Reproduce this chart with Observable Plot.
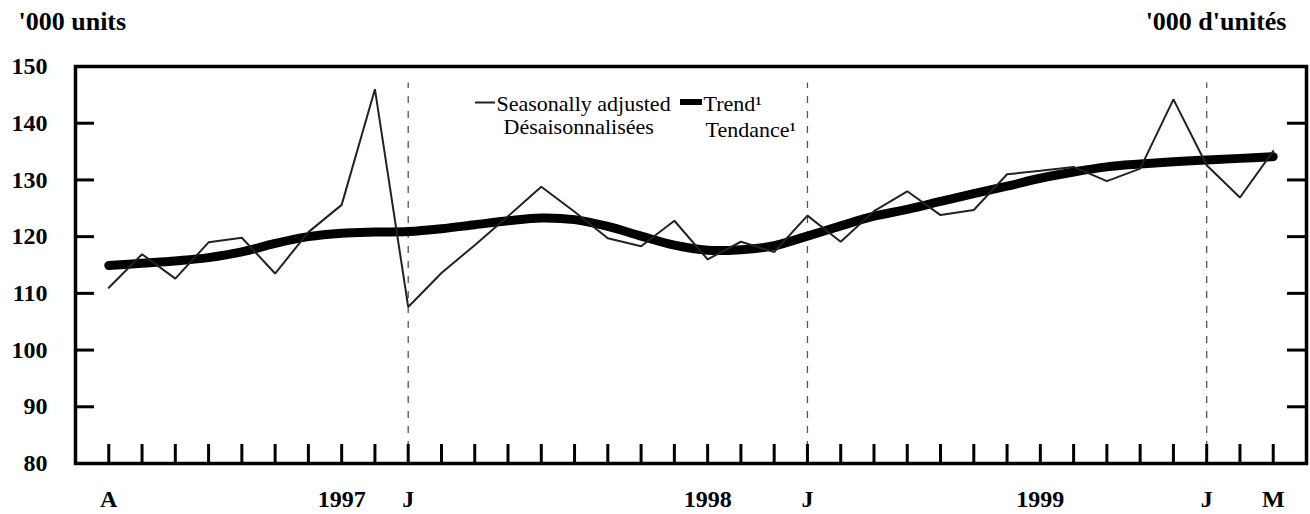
<!DOCTYPE html>
<html>
<head>
<meta charset="utf-8">
<script src="https://cdn.jsdelivr.net/npm/d3@7"></script>
<script src="https://cdn.jsdelivr.net/npm/@observablehq/plot@0.6"></script>
<style>
  html, body { margin: 0; padding: 0; background: #fff; }
  #chart { width: 1310px; height: 514px; }
</style>
</head>
<body>
<div id="chart"></div>
<script>
// Months: April 1996 .. March 1999 (index 0..35)
const months = ["1996-04","1996-05","1996-06","1996-07","1996-08","1996-09","1996-10","1996-11","1996-12",
  "1997-01","1997-02","1997-03","1997-04","1997-05","1997-06","1997-07","1997-08","1997-09","1997-10","1997-11","1997-12",
  "1998-01","1998-02","1998-03","1998-04","1998-05","1998-06","1998-07","1998-08","1998-09","1998-10","1998-11","1998-12",
  "1999-01","1999-02","1999-03"];

// Seasonally adjusted ('000 units)
const seasonallyAdjusted = [111.0, 116.9, 112.6, 119.0, 119.8, 113.5, 120.8, 125.6, 146.0,
  107.6, 113.6, 118.5, 123.6, 128.8, 124.4, 119.7, 118.3, 122.8, 116.0, 119.1, 117.3,
  123.7, 119.1, 124.5, 128.0, 123.8, 124.7, 131.0, 131.6, 132.3, 129.8, 132.0, 144.2,
  132.6, 126.9, 135.1];

// Trend
const trend = [114.9, 115.3, 115.7, 116.3, 117.3, 118.8, 120.0, 120.6, 120.8,
  120.9, 121.4, 122.1, 122.8, 123.3, 123.0, 121.8, 120.1, 118.5, 117.6, 117.7, 118.4,
  120.1, 121.9, 123.6, 124.8, 126.2, 127.6, 128.9, 130.3, 131.4, 132.3, 132.8, 133.2,
  133.5, 133.8, 134.1];

// X tick labels (month, label)
const xLabelMonths = ["1996-04","1996-11","1997-01","1997-10","1998-01","1998-08","1999-01","1999-03"];
const xLabelText = ["A","1997","J","1998","J","1999","J","M"];

// Y ticks
const yTickValues = [80, 90, 100, 110, 120, 130, 140, 150];
const yInnerTicks = [90, 100, 110, 120, 130, 140];

// January reference lines
const januaries = ["1997-01","1998-01","1999-01"];

const data = months.map((m, i) => ({i, m, sa: seasonallyAdjusted[i], trend: trend[i]}));
const idx = m => months.indexOf(m);
const xLabels = xLabelMonths.map((m, k) => ({i: idx(m), label: xLabelText[k]}));

const W = 1310, H = 514;
const mL = 75, mR = 4, mT = 66, mB = 51;
const pw = W - mL - mR, ph = H - mT - mB;
const tickLen = 19;
const FONT = "'Liberation Serif', 'Times New Roman', serif";

const bold = {fontFamily: FONT, fontWeight: "bold", fill: "#000", lineAnchor: "middle"};
const reg = {fontFamily: FONT, fill: "#000", lineAnchor: "middle", textAnchor: "start", fontSize: 22};

const chart = Plot.plot({
  width: W,
  height: H,
  marginLeft: mL, marginRight: mR, marginTop: mT, marginBottom: mB,
  style: {fontFamily: FONT, background: "#fff", color: "#000", overflow: "visible"},
  x: {domain: [-1, 36], axis: null},
  y: {domain: [80, 150], axis: null},
  marks: [
    Plot.ruleX(januaries, {x: d => idx(d), y1: 80, y2: 147.1, stroke: "#555", strokeWidth: 1.3, strokeDasharray: "7,8"}),
    Plot.tickY(yInnerTicks, {y: d => d, insetRight: pw - tickLen, stroke: "#000", strokeWidth: 3}),
    Plot.tickY(yInnerTicks, {y: d => d, insetLeft: pw - tickLen, stroke: "#000", strokeWidth: 3}),
    Plot.tickX(data, {x: "i", insetTop: ph - tickLen, stroke: "#000", strokeWidth: 3}),
    Plot.line(data, {x: "i", y: "trend", stroke: "#000", strokeWidth: 9, strokeLinecap: "round", strokeLinejoin: "round", curve: "catmull-rom"}),
    Plot.line(data, {x: "i", y: "sa", stroke: "#222", strokeWidth: 2, strokeLinejoin: "miter"}),
    Plot.frame({stroke: "#000", strokeWidth: 3.5}),
    Plot.text(yTickValues, {...bold, y: d => d, text: d => String(d), frameAnchor: "left", dx: -28, textAnchor: "end", fontSize: 24}),
    Plot.text(xLabels, {...bold, x: "i", text: "label", frameAnchor: "bottom", dy: 36, textAnchor: "middle", fontSize: 24}),
    Plot.text(["'000 units"], {...bold, frameAnchor: "top-left", dx: 18 - mL, dy: 21 - mT, textAnchor: "start", fontSize: 26}),
    Plot.text(["'000 d'unités"], {...bold, frameAnchor: "top-right", dx: 1286 - (W - mR), dy: 21 - mT, textAnchor: "end", fontSize: 26}),
    Plot.text(["Seasonally adjusted"], {...reg, frameAnchor: "top-left", dx: 496 - mL, dy: 103 - mT}),
    Plot.text(["Désaisonnalisées"], {...reg, frameAnchor: "top-left", dx: 503 - mL, dy: 126 - mT}),
    Plot.text(["Trend¹"], {...reg, frameAnchor: "top-left", dx: 703 - mL, dy: 103 - mT}),
    Plot.text(["Tendance¹"], {...reg, frameAnchor: "top-left", dx: 705 - mL, dy: 129 - mT})
  ]
});

// Legend swatches
const svg = d3.select(chart);
svg.append("line").attr("x1", 475).attr("x2", 495).attr("y1", 102.5).attr("y2", 102.5)
  .attr("stroke", "#222").attr("stroke-width", 2);
svg.append("line").attr("x1", 680).attr("x2", 702).attr("y1", 102).attr("y2", 102)
  .attr("stroke", "#000").attr("stroke-width", 6);

document.getElementById("chart").appendChild(chart);
</script>
</body>
</html>
